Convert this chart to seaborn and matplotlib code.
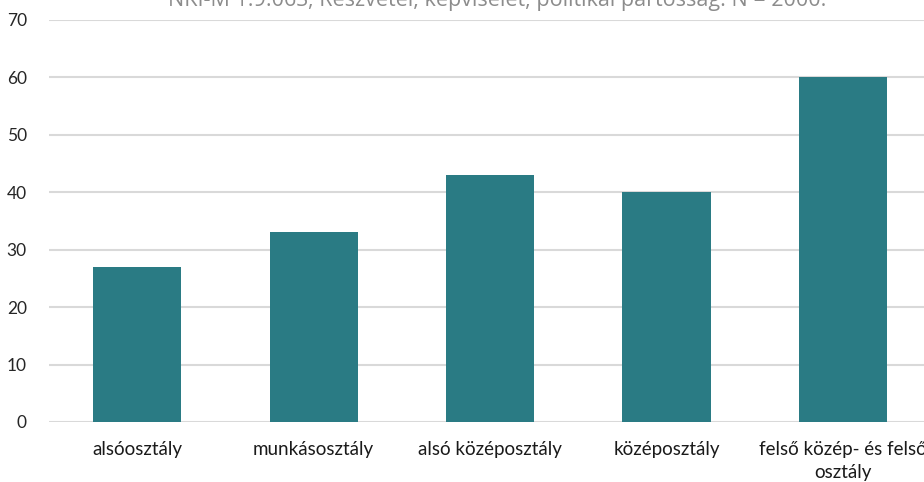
import matplotlib
matplotlib.use("Agg")
import matplotlib.pyplot as plt
import seaborn as sns
import pandas as pd

# data
categories = ["alsóosztály", "munkásosztály", "alsó középosztály",
              "középosztály", "felső közép- és felső\nosztály"]
values = [27, 33, 43, 40, 60]
yticks = [0, 10, 20, 30, 40, 50, 60, 70]
title = "NKI-M 1.9.06S, Részvétel, képviselet, politikai pártosság. N = 2000."

sns.set_theme(style="white")
plt.rcParams['font.family'] = ['Lato', 'DejaVu Sans']

df = pd.DataFrame({"class": categories, "value": values})

fig = plt.figure(figsize=(9.24, 4.82), dpi=100)
ax = fig.add_axes([49 / 924, 1 - 422 / 482, 882 / 924, 402 / 482])

sns.barplot(data=df, x="class", y="value", color="#2a7b84", saturation=1,
            width=0.5, linewidth=0, edgecolor="none", ax=ax, zorder=3)

ax.set_ylim(0, 70)
ax.set_yticks(yticks)
ax.set_xlim(-0.5, len(categories) - 0.5)
ax.yaxis.grid(True, color="#d9d9d9", linewidth=1.5, zorder=0)
ax.set_axisbelow(True)
for s in ax.spines.values():
    s.set_visible(False)
ax.tick_params(axis="y", length=0, labelsize=12.5, colors="#262626", pad=16)
ax.tick_params(axis="x", length=0, labelsize=13.5, colors="#1a1a1a", pad=14)
ax.set_xlabel("")
ax.set_ylabel("")
for lbl in ax.get_xticklabels():
    lbl.set_linespacing(1.4)

fig.text(0.538, 1 - 6 / 482, title, ha="center", va="baseline",
         fontsize=15.5, color="#8c8c8c", family=["Open Sans", "DejaVu Sans"])

fig.savefig("out.png", dpi=100)
